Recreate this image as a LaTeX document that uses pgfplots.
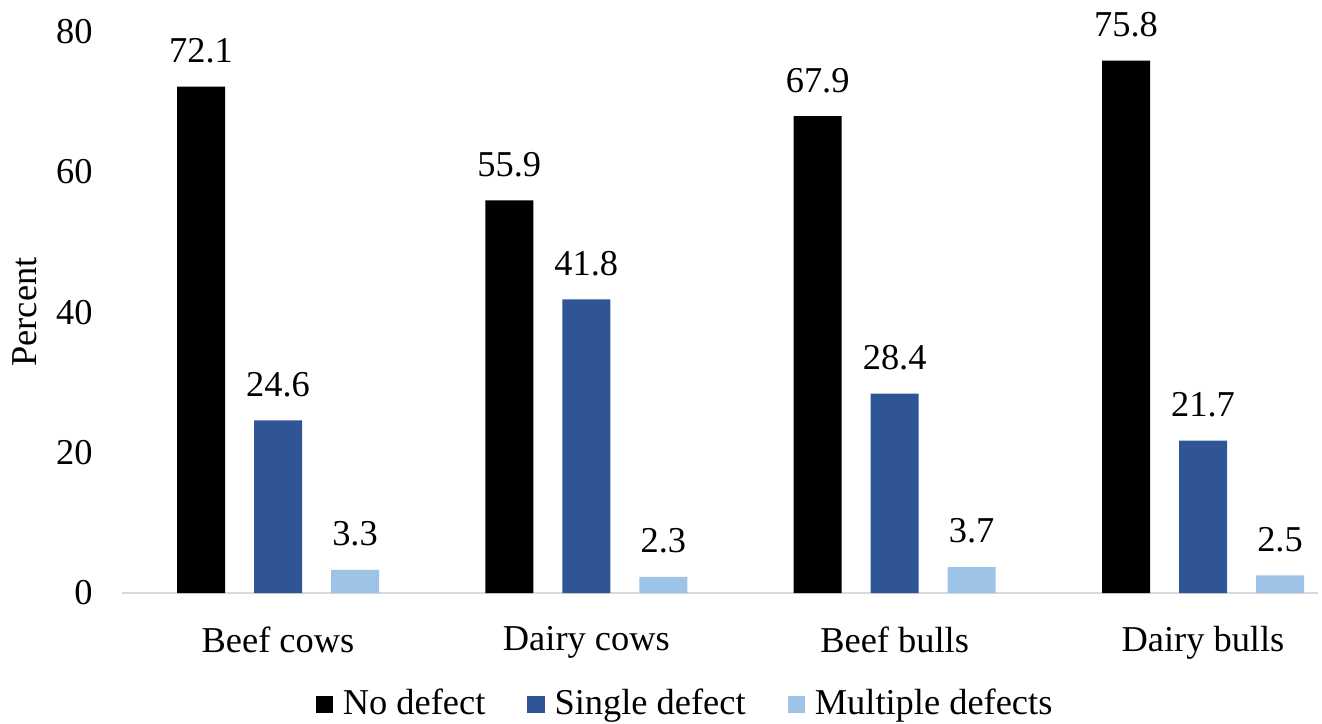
\documentclass[border=0pt]{standalone}
\usepackage{pgfplots}
\pgfplotsset{compat=1.18}
\usepackage{fontspec}
\setmainfont{Liberation Serif}
\definecolor{darkblue}{HTML}{2F5597}
\definecolor{lightblue}{HTML}{9DC3E6}
\definecolor{axisgrey}{HTML}{D9D9D9}

\begin{document}
\fontsize{18.2}{22}\selectfont
\begin{tikzpicture}
  \begin{axis}[name=ax,
      scale only axis,
      width=598pt, height=280.9pt,
      ybar=14.5pt, bar width=24pt,
      xmin=-0.506, xmax=3.373,
      ymin=0, ymax=80,
      ytick={0,20,...,80},
      xtick=data,
      xticklabels={Beef cows,Dairy cows,Beef bulls,Dairy bulls},
      axis x line*=bottom,
      axis y line*=left,
      y axis line style={draw=none},
      x axis line style={axisgrey, line width=1pt, -},
      major tick length=0pt,
      ylabel={Percent},
      ylabel style={at={(axis description cs:-0.081,0.5)}, anchor=center},
      yticklabel style={anchor=east, xshift=-8.5pt},
      /pgf/number format/assume math mode=true,
      xticklabel style={yshift=-10.5pt},
      nodes near coords,
      nodes near coords style={/pgf/number format/fixed,
        /pgf/number format/precision=1,
        /pgf/number format/fixed zerofill, yshift=5.5pt},
      legend style={at={(axis description cs:0.4716,-0.199)}, anchor=center,
        draw=none, legend columns=-1, /tikz/every even column/.append style={column sep=19pt}},
      legend image code/.code={\fill[#1] (0pt,-4.3pt) rectangle (8.6pt,4.3pt); \path (11.6pt,0pt);},
    ]
    \addplot[fill=black, draw=none] coordinates {(0,72.1) (1,55.9) (2,67.9) (3,75.8)};
    \addplot[fill=darkblue, draw=none] coordinates {(0,24.6) (1,41.8) (2,28.4) (3,21.7)};
    \addplot[fill=lightblue, draw=none] coordinates {(0,3.3) (1,2.3) (2,3.7) (3,2.5)};
    \legend{No defect, Single defect, Multiple defects}
  \end{axis}
  \pgfresetboundingbox
  \path[use as bounding box] ([shift={(-61pt,-65pt)}]ax.south west) rectangle ([shift={(2pt,15.6pt)}]ax.north east);
\end{tikzpicture}
\end{document}
